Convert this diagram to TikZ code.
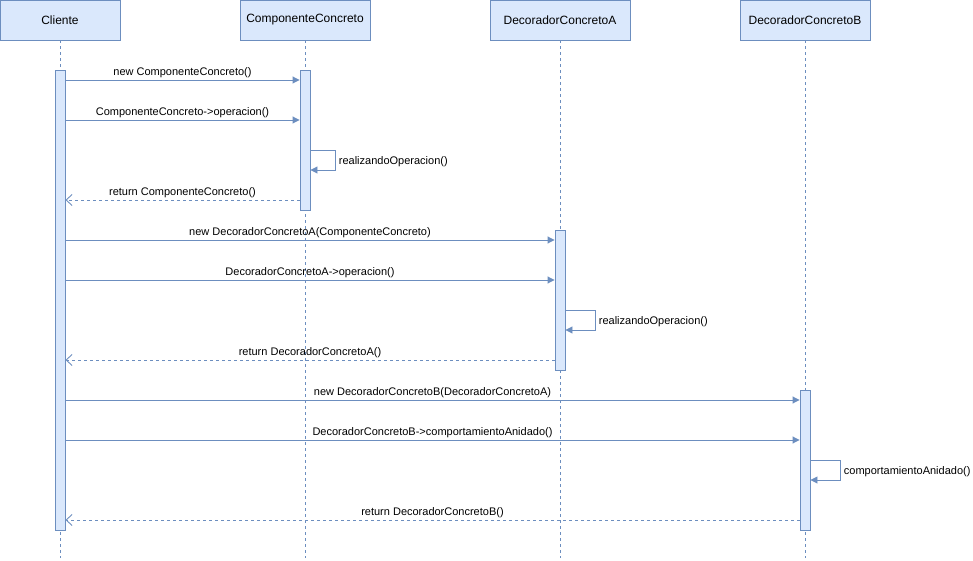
\documentclass[tikz,border=0pt]{standalone}
\usepackage{fontspec}
\setmainfont{Liberation Sans}
\usetikzlibrary{arrows.meta,calc,positioning}
\definecolor{Stroke}{HTML}{6C8EBF}
\definecolor{Fill}{HTML}{DAE8FC}

\begin{document}
\begin{tikzpicture}[x=1pt,y=-1pt,font=\fontsize{11}{13}\selectfont,line width=.9pt,
    header/.style={draw=Stroke,fill=Fill,minimum height=40pt,inner sep=0pt,font=\fontsize{12}{14}\selectfont},
    actbar/.style={draw=Stroke,fill=Fill,minimum width=10pt,inner sep=0pt},
    lifeline/.style={draw=Stroke,dash pattern=on 3pt off 3pt},
    msg/.style={draw=Stroke,-{Triangle[length=7pt,width=7pt]}},
    ret/.style={draw=Stroke,dash pattern=on 3pt off 3pt,-{Straight Barb[length=6pt,width=11pt,line width=.9pt]}},
    lbl/.style={above,inner sep=2pt},
    selflbl/.style={pos=.25,right,inner sep=3pt,yshift=-1.5pt}]
  \useasboundingbox (0,0) rectangle (973,561);
  % participants
  \node[header,minimum width=120pt] (cli) at (60,20) {Cliente};
  \node[header,minimum width=130pt] (comp) at (305,20) {ComponenteConcreto};
  \node[header,minimum width=140pt] (deca) at (560,20) {DecoradorConcretoA};
  \node[header,minimum width=130pt] (decb) at (805,20) {DecoradorConcretoB};
  \coordinate (bot) at (0,558);
  \foreach \p in {cli,comp,deca,decb} \draw[lifeline] (\p.south) -- (\p |- bot);
  % activations
  \node[actbar,minimum height=460pt] (acli) at (60,300) {};
  \node[actbar,minimum height=140pt] (acomp) at (305,140) {};
  \node[actbar,minimum height=140pt] (adeca) at (560,300) {};
  \node[actbar,minimum height=140pt] (adecb) at (805,460) {};
  % message rows
  \foreach \n/\y in {m1/80,m2/120,s1a/150,s1b/170,r1/200,m3/240,m4/280,s2a/310,s2b/330,r2/360,m5/400,m6/440,s3a/460,s3b/480,r3/520}
    \coordinate (\n) at (0,\y);
  % ComponenteConcreto
  \draw[msg] (acli.east |- m1) -- node[lbl]{new ComponenteConcreto()} (acomp.west |- m1);
  \draw[msg] (acli.east |- m2) -- node[lbl]{ComponenteConcreto->operacion()} (acomp.west |- m2);
  \draw[msg] (acomp.east |- s1a) -- ++(25,0) |- node[selflbl]{realizandoOperacion()} (acomp.east |- s1b);
  \draw[ret] (acomp.west |- r1) -- node[lbl]{return ComponenteConcreto()} (acli.east |- r1);
  % DecoradorConcretoA
  \draw[msg] (acli.east |- m3) -- node[lbl]{new DecoradorConcretoA(ComponenteConcreto)} (adeca.west |- m3);
  \draw[msg] (acli.east |- m4) -- node[lbl]{DecoradorConcretoA->operacion()} (adeca.west |- m4);
  \draw[msg] (adeca.east |- s2a) -- ++(30,0) |- node[selflbl]{realizandoOperacion()} (adeca.east |- s2b);
  \draw[ret] (adeca.west |- r2) -- node[lbl]{return DecoradorConcretoA()} (acli.east |- r2);
  % DecoradorConcretoB
  \draw[msg] (acli.east |- m5) -- node[lbl]{new DecoradorConcretoB(DecoradorConcretoA)} (adecb.west |- m5);
  \draw[msg] (acli.east |- m6) -- node[lbl]{DecoradorConcretoB->comportamientoAnidado()} (adecb.west |- m6);
  \draw[msg] (adecb.east |- s3a) -- ++(30,0) |- node[selflbl]{comportamientoAnidado()} (adecb.east |- s3b);
  \draw[ret] (adecb.west |- r3) -- node[lbl]{return DecoradorConcretoB()} (acli.east |- r3);
\end{tikzpicture}
\end{document}
